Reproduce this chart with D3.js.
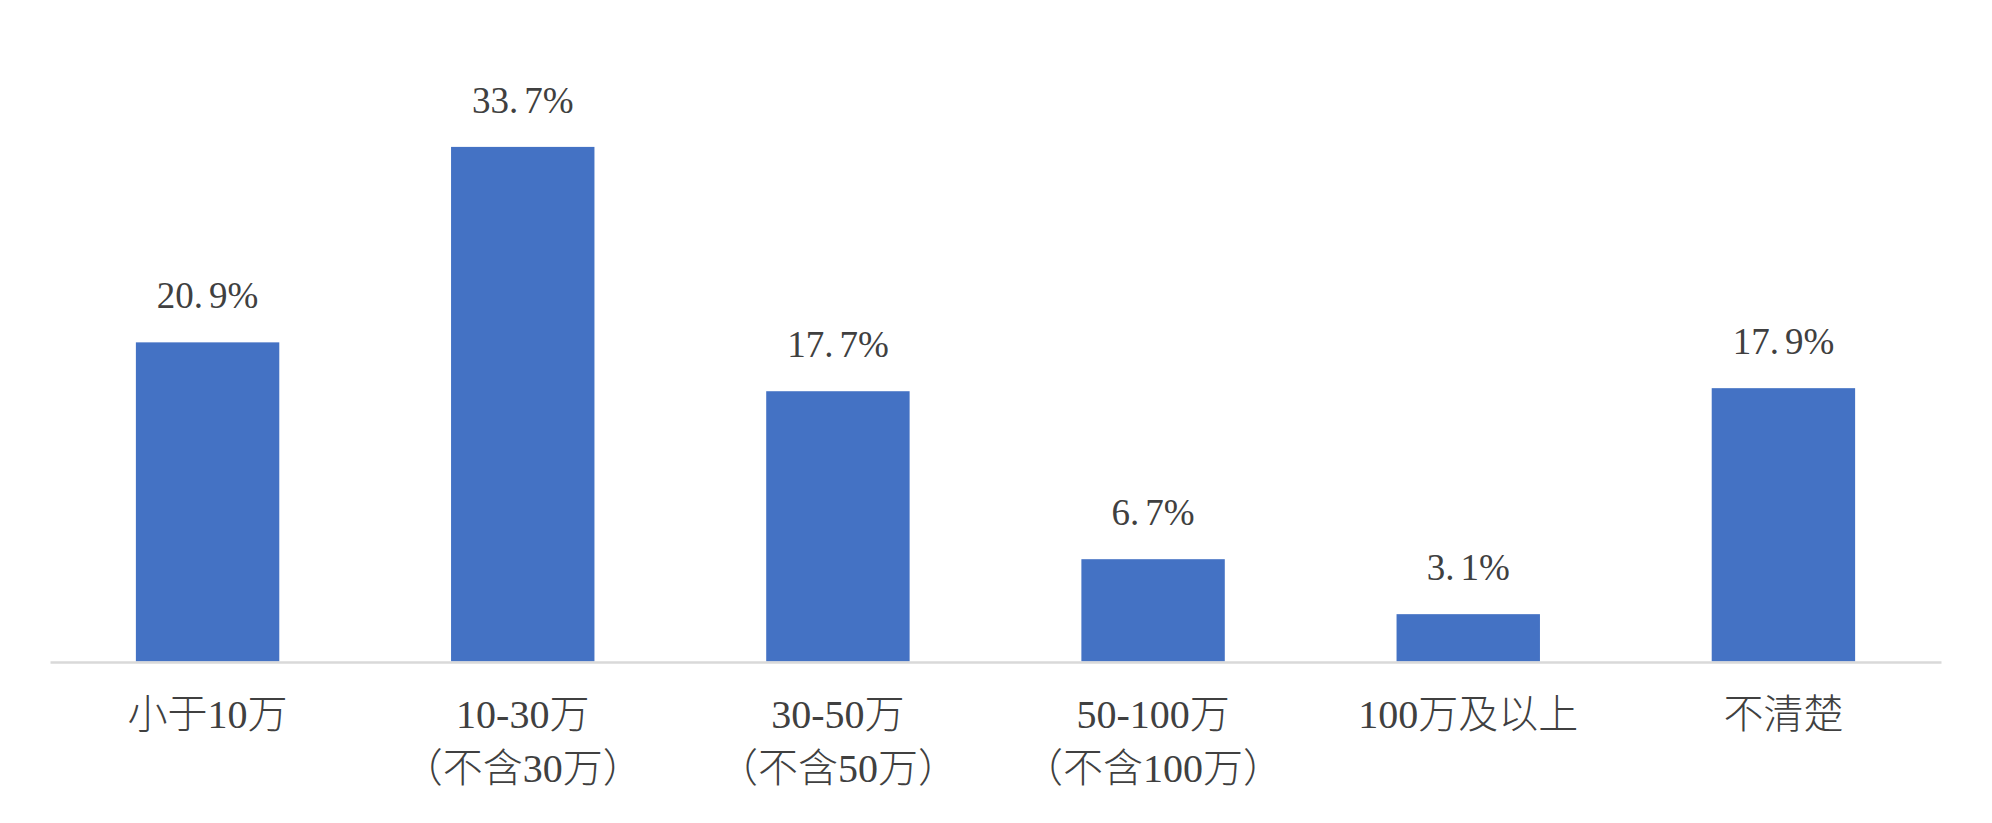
<!DOCTYPE html>
<html>
<head>
<meta charset="utf-8">
<script src="https://cdn.jsdelivr.net/npm/d3@7"></script>
<style>
  html, body { margin: 0; padding: 0; background: #ffffff; }
  svg { display: block; }
  text { font-family: "Liberation Serif", "Noto Sans CJK SC", serif; fill: #404040; }
</style>
</head>
<body>
<svg id="chart" width="1992" height="823"></svg>
<script>
const categories = ["小于10万", "10-30万（不含30万）", "30-50万（不含50万）", "50-100万（不含100万）", "100万及以上", "不清楚"];
const values = [20.9, 33.7, 17.7, 6.7, 3.1, 17.9];
const valueLabels = ["20.9%", "33.7%", "17.7%", "6.7%", "3.1%", "17.9%"];
const yDomain = [0, 40];

const svg = d3.select("#chart");
const left = 50, right = 1941, baseY = 661.5, pxPerUnit = 15.27;

const x = d3.scaleBand()
  .domain(categories)
  .range([left, right])
  .paddingInner(0.545)
  .paddingOuter(0.545 / 2);

const y = d3.scaleLinear()
  .domain(yDomain)
  .range([baseY, baseY - yDomain[1] * pxPerUnit]);

// bars
svg.append("g").selectAll("rect")
  .data(categories)
  .join("rect")
  .attr("x", d => x(d))
  .attr("width", x.bandwidth())
  .attr("y", (d, i) => y(values[i]))
  .attr("height", (d, i) => y(0) - y(values[i]))
  .attr("fill", "#4472c4");

// value labels (wide gap after the decimal point, as in the reference)
svg.append("g").selectAll("text")
  .data(categories)
  .join("text")
  .attr("x", d => x(d) + x.bandwidth() / 2)
  .attr("y", (d, i) => y(values[i]) - 34)
  .attr("text-anchor", "middle")
  .style("font-size", "37px")
  .each(function(d, i) {
    const s = valueLabels[i];
    const p = s.indexOf(".") + 1;
    const t = d3.select(this);
    t.append("tspan").text(s.slice(0, p));
    t.append("tspan").attr("dx", 6).text(s.slice(p));
  });

// x axis
const axis = svg.append("g")
  .attr("transform", `translate(0,662)`)
  .call(d3.axisBottom(x).tickSize(0).tickSizeOuter(0).tickFormat(""));
axis.select(".domain").attr("stroke", "#d9d9d9").attr("stroke-width", 2.5);
axis.selectAll(".tick text").remove();

axis.selectAll(".tick").each(function(d) {
  const idx = d.indexOf("（");
  const lines = idx >= 0 ? [d.slice(0, idx), d.slice(idx)] : [d];
  const t = d3.select(this).append("text")
    .attr("text-anchor", "middle")
    .attr("fill", "#404040")
    .style("font-size", "40px")
    .style("font-weight", "300")
    .style("font-family", "'Liberation Serif', 'Noto Sans CJK SC', serif");
  lines.forEach((ln, k) => {
    t.append("tspan").attr("x", 0).attr("y", 66 + k * 54).text(ln);
  });
});
</script>
</body>
</html>
